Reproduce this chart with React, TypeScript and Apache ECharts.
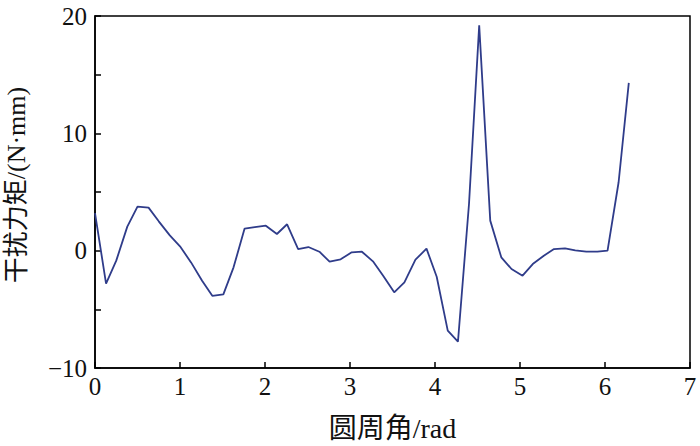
import React, { useEffect, useRef } from "react";
import * as echarts from "echarts";

const angles = [
  0, 0.13, 0.25, 0.38, 0.5, 0.63, 0.75, 0.88, 1.0, 1.13, 1.26, 1.38, 1.51, 1.63, 1.76, 1.88,
  2.01, 2.14, 2.26, 2.39, 2.51, 2.64, 2.76, 2.89, 3.02, 3.14, 3.27, 3.39, 3.52, 3.64, 3.77,
  3.9, 4.02, 4.15, 4.27, 4.4, 4.52, 4.65, 4.78, 4.9, 5.03, 5.15, 5.28, 5.4, 5.53, 5.65,
  5.78, 5.91, 6.03, 6.16, 6.28,
];
const torque = [
  3.2, -2.8, -0.85, 2.05, 3.75, 3.67, 2.5, 1.3, 0.37, -1.0, -2.56, -3.85, -3.72, -1.42, 1.88, 2.0,
  2.13, 1.42, 2.25, 0.14, 0.31, -0.09, -0.94, -0.74, -0.14, -0.09, -0.91, -2.13, -3.55, -2.7, -0.77,
  0.17, -2.22, -6.82, -7.76, 3.98, 19.2, 2.56, -0.57, -1.56, -2.13, -1.14, -0.43, 0.14, 0.2, 0.03,
  -0.09, -0.09, 0, 5.83, 14.3,
];
const xTickLabels = ["0", "1", "2", "3", "4", "5", "6", "7"];
const yLabeled = [-10, 0, 10, 20];

const FONT = "'Liberation Serif', 'Noto Sans CJK SC', serif";

export default function App() {
  const ref = useRef<HTMLDivElement>(null);
  useEffect(() => {
    if (!ref.current) return;
    const chart = echarts.init(ref.current, null, { renderer: "svg" });
    chart.setOption({
      animation: false,
      grid: {
        left: 95,
        right: 10,
        top: 16,
        bottom: 78,
        show: true,
        borderColor: "#000",
        borderWidth: 1.5,
        backgroundColor: "transparent",
        containLabel: false,
        outerBoundsMode: "none",
      },
      xAxis: {
        type: "value",
        min: 0,
        max: 7,
        interval: 1,
        name: "圆周角/rad",
        nameLocation: "middle",
        nameGap: 46,
        nameTextStyle: { fontFamily: FONT, fontSize: 28, color: "#111" },
        axisLine: { show: true, onZero: false, lineStyle: { color: "#000", width: 1.5 } },
        axisTick: { show: true, inside: true, length: 6, lineStyle: { color: "#000", width: 1.5 } },
        axisLabel: {
          fontFamily: FONT,
          fontSize: 25,
          color: "#111",
          margin: 6,
          formatter: (v: number) => xTickLabels[Math.round(v)] ?? "",
        },
        splitLine: { show: false },
      },
      yAxis: {
        type: "value",
        min: -10,
        max: 20,
        interval: 5,
        name: "干扰力矩/(N·mm)",
        nameLocation: "middle",
        nameGap: 66,
        nameTextStyle: { fontFamily: FONT, fontSize: 26, color: "#111", padding: [0, 0, 0, 14] },
        axisLine: { show: true, onZero: false, lineStyle: { color: "#000", width: 1.5 } },
        axisTick: { show: true, inside: true, length: 6, lineStyle: { color: "#000", width: 1.5 } },
        axisLabel: {
          fontFamily: FONT,
          fontSize: 25,
          color: "#111",
          margin: 8,
          formatter: (v: number) =>
            yLabeled.includes(v) ? (v < 0 ? "\u2212" + Math.abs(v) : String(v)) : "",
        },
        splitLine: { show: false },
      },
      series: [
        {
          type: "line",
          data: angles.map((a, i) => [a, torque[i]]),
          showSymbol: false,
          symbol: "none",
          lineStyle: { color: "#2F3C8A", width: 1.8 },
        },
      ],
    });
    return () => chart.dispose();
  }, []);
  return <div ref={ref} style={{ width: 700, height: 446, position: "absolute", left: 0, top: 0 }} />;
}
